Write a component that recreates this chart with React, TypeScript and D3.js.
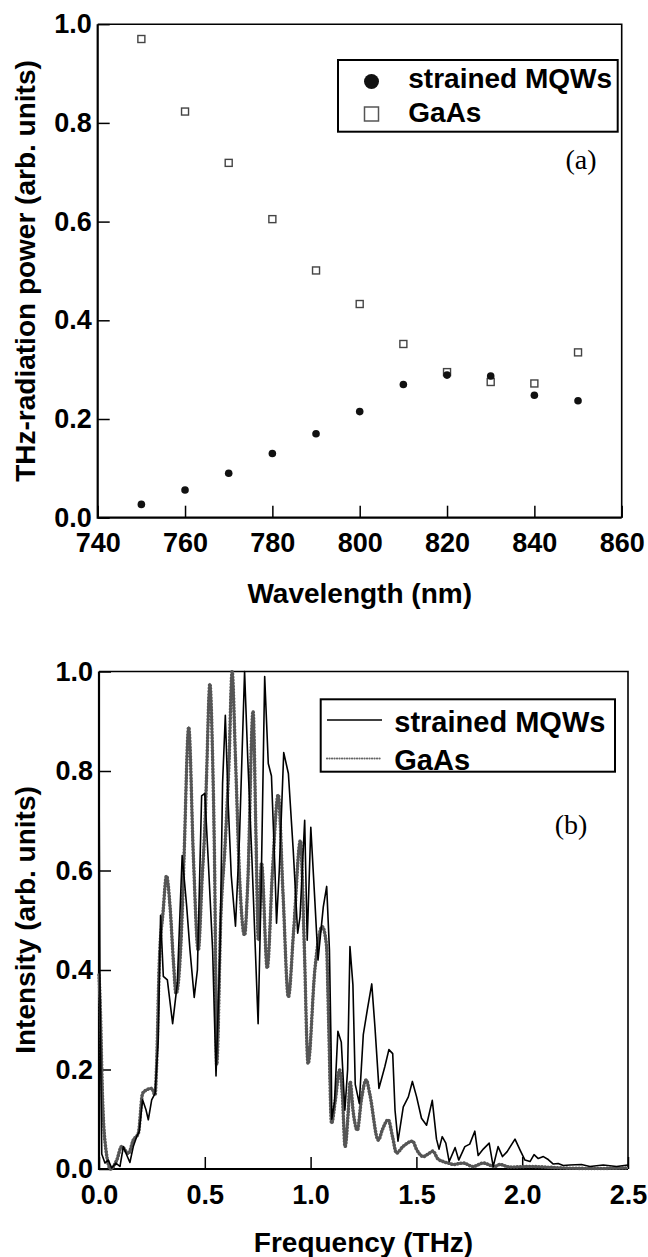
import React, { useEffect, useRef } from 'react';
import * as d3 from 'd3';

// panel (a): THz power vs excitation wavelength
const WAVELENGTHS = [750, 760, 770, 780, 790, 800, 810, 820, 830, 840, 850];
const MQW_POWER = [0.027, 0.056, 0.090, 0.130, 0.170, 0.215, 0.270, 0.289, 0.287, 0.248, 0.237];
const GAAS_POWER = [0.970, 0.823, 0.719, 0.605, 0.501, 0.433, 0.352, 0.295, 0.275, 0.272, 0.335];

// panel (b): spectra
const MQW_FREQ = [
  0.000, 0.005, 0.013, 0.028, 0.044, 0.060, 0.080, 0.099, 0.115, 0.134, 0.146, 0.162, 0.178, 0.190,
  0.206, 0.222, 0.233, 0.249, 0.265, 0.280, 0.291, 0.304, 0.323, 0.348, 0.370, 0.393, 0.414, 0.430,
  0.450, 0.465, 0.485, 0.500, 0.517, 0.537, 0.553, 0.572, 0.584, 0.597, 0.611, 0.625, 0.645, 0.664,
  0.688, 0.703, 0.723, 0.752, 0.766, 0.783, 0.800, 0.815, 0.831, 0.839, 0.852, 0.873, 0.895, 0.918,
  0.939, 0.950, 0.972, 0.984, 1.001, 1.020, 1.035, 1.060, 1.076, 1.089, 1.097, 1.100, 1.113, 1.129,
  1.145, 1.162, 1.175, 1.186, 1.200, 1.211, 1.221, 1.230, 1.249, 1.268, 1.289, 1.304, 1.323, 1.351,
  1.370, 1.388, 1.399, 1.413, 1.438, 1.462, 1.481, 1.501, 1.524, 1.548, 1.575, 1.595, 1.607, 1.622,
  1.639, 1.655, 1.683, 1.700, 1.729, 1.752, 1.776, 1.792, 1.816, 1.844, 1.863, 1.886, 1.907, 1.929,
  1.966, 1.990, 2.013, 2.037, 2.056, 2.076, 2.100, 2.123, 2.147, 2.170, 2.194, 2.225, 2.280, 2.320,
  2.383, 2.446, 2.500
];
const MQW_INTENSITY = [
  0.800, 0.340, 0.030, 0.012, 0.018, 0.002, 0.012, 0.005, 0.045, 0.025, 0.013, 0.045, 0.065, 0.075,
  0.139, 0.119, 0.099, 0.139, 0.152, 0.259, 0.510, 0.387, 0.380, 0.292, 0.373, 0.630, 0.530, 0.440,
  0.345, 0.400, 0.750, 0.755, 0.614, 0.440, 0.187, 0.440, 0.775, 0.912, 0.730, 0.590, 0.488, 0.667,
  1.000, 0.825, 0.620, 0.292, 0.557, 0.990, 0.815, 0.790, 0.608, 0.494, 0.600, 0.837, 0.795, 0.640,
  0.474, 0.507, 0.701, 0.460, 0.687, 0.540, 0.420, 0.527, 0.568, 0.440, 0.240, 0.100, 0.135, 0.277,
  0.255, 0.118, 0.200, 0.447, 0.370, 0.170, 0.150, 0.132, 0.270, 0.320, 0.372, 0.286, 0.162, 0.206,
  0.240, 0.232, 0.118, 0.056, 0.125, 0.145, 0.176, 0.145, 0.102, 0.088, 0.138, 0.060, 0.040, 0.065,
  0.052, 0.015, 0.043, 0.018, 0.045, 0.050, 0.076, 0.027, 0.040, 0.052, 0.005, 0.045, 0.025, 0.035,
  0.060, 0.038, 0.018, 0.015, 0.029, 0.021, 0.025, 0.019, 0.010, 0.011, 0.007, 0.008, 0.009, 0.005,
  0.008, 0.005, 0.008
];
const GAAS_FREQ = [
  0.000, 0.005, 0.017, 0.033, 0.055, 0.084, 0.107, 0.139, 0.162, 0.186, 0.206, 0.225, 0.249, 0.265,
  0.272, 0.285, 0.303, 0.319, 0.336, 0.352, 0.364, 0.390, 0.402, 0.424, 0.446, 0.469, 0.488, 0.501,
  0.508, 0.524, 0.537, 0.547, 0.556, 0.576, 0.596, 0.615, 0.629, 0.645, 0.664, 0.688, 0.703, 0.728,
  0.742, 0.753, 0.768, 0.795, 0.820, 0.847, 0.870, 0.895, 0.920, 0.952, 0.970, 0.988, 1.020, 1.055,
  1.075, 1.085, 1.099, 1.117, 1.137, 1.150, 1.163, 1.178, 1.187, 1.201, 1.221, 1.240, 1.263, 1.280,
  1.320, 1.340, 1.367, 1.387, 1.406, 1.436, 1.482, 1.500, 1.532, 1.555, 1.578, 1.600, 1.626, 1.658,
  1.674, 1.721, 1.768, 1.816, 1.870, 1.894, 1.940, 2.037, 2.194, 2.352, 2.493, 2.500
];
const GAAS_INTENSITY = [
  0.390, 0.340, 0.139, 0.038, 0.000, 0.018, 0.045, 0.031, 0.058, 0.072, 0.152, 0.159, 0.162, 0.149,
  0.206, 0.415, 0.518, 0.589, 0.526, 0.415, 0.353, 0.480, 0.628, 0.888, 0.628, 0.440, 0.589, 0.695,
  0.786, 0.975, 0.825, 0.589, 0.210, 0.510, 0.652, 0.825, 1.000, 0.825, 0.589, 0.470, 0.574, 0.920,
  0.667, 0.460, 0.615, 0.404, 0.600, 0.752, 0.550, 0.346, 0.480, 0.660, 0.450, 0.212, 0.400, 0.487,
  0.450, 0.300, 0.092, 0.139, 0.199, 0.150, 0.045, 0.116, 0.175, 0.116, 0.078, 0.140, 0.179, 0.150,
  0.058, 0.080, 0.099, 0.065, 0.032, 0.045, 0.056, 0.040, 0.025, 0.030, 0.036, 0.021, 0.015, 0.011,
  0.009, 0.012, 0.005, 0.012, 0.005, 0.009, 0.004, 0.005, 0.002, 0.001, 0.002, 0.002
];

const POWER_TICKS = [0, 0.2, 0.4, 0.6, 0.8, 1.0];
const WAVE_TICKS = [740, 760, 780, 800, 820, 840, 860];
const FREQ_TICKS = [0, 0.5, 1.0, 1.5, 2.0, 2.5];

const SANS = '"Liberation Sans", Arial, Helvetica, sans-serif';
const SERIF = '"Liberation Serif", "Times New Roman", serif';

const W = 648;
const H = 1257;

// draws frame, inward ticks and labels for one panel
function drawFrame(g, x, y, xTicks, yTicks, xFmt) {
  const [x0, x1] = x.range();
  const [y0, y1] = y.range();

  const yAxis = g.append('g')
    .attr('transform', `translate(${x0},0)`)
    .call(d3.axisLeft(y).tickValues(yTicks).tickSizeInner(-12).tickSizeOuter(0)
      .tickPadding(6).tickFormat(d3.format('.1f')));
  const xAxis = g.append('g')
    .attr('transform', `translate(0,${y0})`)
    .call(d3.axisBottom(x).tickValues(xTicks).tickSizeInner(-12).tickSizeOuter(0)
      .tickPadding(15.5).tickFormat(xFmt));

  [yAxis, xAxis].forEach(a => {
    a.select('.domain').remove();
    a.selectAll('line').attr('stroke', '#000').attr('stroke-width', 1.5);
    a.selectAll('text')
      .attr('fill', '#000')
      .style('font-family', SANS)
      .style('font-weight', 'bold')
      .style('font-size', '27px');
  });

  // right and top border
  g.append('path')
    .attr('d', `M${x0},${y1}H${x1}V${y0}`)
    .attr('fill', 'none').attr('stroke', '#000').attr('stroke-width', 1.6);
  // left and bottom axis
  g.append('path')
    .attr('d', `M${x0},${y1}V${y0}H${x1}`)
    .attr('fill', 'none').attr('stroke', '#000').attr('stroke-width', 2.2);
}

function axisTitle(g, text, x, y, rotate) {
  g.append('text')
    .attr('transform', `translate(${x},${y})${rotate ? ' rotate(-90)' : ''}`)
    .attr('text-anchor', 'middle')
    .style('font-family', SANS)
    .style('font-weight', 'bold')
    .style('font-size', '28px')
    .attr('fill', '#000')
    .text(text);
}

function legendText(g, text, x, y, size) {
  g.append('text')
    .attr('x', x).attr('y', y)
    .style('font-family', SANS)
    .style('font-weight', 'bold')
    .style('font-size', `${size}px`)
    .attr('fill', '#000')
    .text(text);
}

export default function App() {
  const ref = useRef(null);

  useEffect(() => {
    const svg = d3.select(ref.current);
    svg.selectAll('*').remove();

    // ---------- panel (a) ----------
    const ga = svg.append('g');
    const xa = d3.scaleLinear().domain([740, 860]).range([97.7, 621.7]);
    const ya = d3.scaleLinear().domain([0, 1]).range([517.7, 24.2]);

    drawFrame(ga, xa, ya, WAVE_TICKS, POWER_TICKS, d3.format('d'));

    const ptsA = WAVELENGTHS.map((w, i) => ({ w, mqw: MQW_POWER[i], gaas: GAAS_POWER[i] }));

    ga.selectAll('.gaas-pt')
      .data(ptsA)
      .enter().append('rect')
      .attr('class', 'gaas-pt')
      .attr('x', d => xa(d.w) - 3.5)
      .attr('y', d => ya(d.gaas) - 3.5)
      .attr('width', 7).attr('height', 7)
      .attr('fill', '#fff')
      .attr('stroke', '#444')
      .attr('stroke-width', 1.4);

    ga.selectAll('.mqw-pt')
      .data(ptsA)
      .enter().append('circle')
      .attr('class', 'mqw-pt')
      .attr('cx', d => xa(d.w))
      .attr('cy', d => ya(d.mqw))
      .attr('r', 3.8)
      .attr('fill', '#111');

    // legend (a)
    ga.append('rect')
      .attr('x', 338).attr('y', 60).attr('width', 279.7).attr('height', 71.7)
      .attr('fill', '#fff').attr('stroke', '#000').attr('stroke-width', 2);
    ga.append('circle').attr('cx', 371.5).attr('cy', 81.5).attr('r', 7.5).attr('fill', '#111');
    ga.append('rect')
      .attr('x', 364.5).attr('y', 107).attr('width', 14).attr('height', 14)
      .attr('fill', '#fff').attr('stroke', '#555').attr('stroke-width', 1.5);
    legendText(ga, 'strained MQWs', 408.3, 88.3, 28);
    legendText(ga, 'GaAs', 408.3, 121.7, 28);

    ga.append('text')
      .attr('x', 581).attr('y', 169)
      .attr('text-anchor', 'middle')
      .style('font-family', SERIF)
      .style('font-size', '28px')
      .attr('fill', '#000')
      .text('(a)');

    axisTitle(ga, 'Wavelength (nm)', 359.7, 603.3, false);
    axisTitle(ga, 'THz-radiation power (arb. units)', 35, 271, true);

    // ---------- panel (b) ----------
    const gb = svg.append('g');
    const xb = d3.scaleLinear().domain([0, 2.5]).range([99, 628]);
    const yb = d3.scaleLinear().domain([0, 1]).range([1169, 671.5]);

    drawFrame(gb, xb, yb, FREQ_TICKS, POWER_TICKS, d3.format('.1f'));

    const gaasData = GAAS_FREQ.map((f, i) => [f, GAAS_INTENSITY[i]]);
    const mqwData = MQW_FREQ.map((f, i) => [f, MQW_INTENSITY[i]]);

    const gaasLine = d3.line()
      .x(d => xb(d[0]))
      .y(d => yb(d[1]))
      .curve(d3.curveMonotoneX);
    const mqwLine = d3.line()
      .x(d => xb(d[0]))
      .y(d => yb(d[1]));

    // GaAs: chain of gray beads
    gb.append('path')
      .datum(gaasData)
      .attr('d', gaasLine)
      .attr('fill', 'none')
      .attr('stroke', '#7a7a7a')
      .attr('stroke-width', 2.2)
      .attr('stroke-linejoin', 'round');
    gb.append('path')
      .datum(gaasData)
      .attr('d', gaasLine)
      .attr('fill', 'none')
      .attr('stroke', '#555')
      .attr('stroke-width', 3.6)
      .attr('stroke-linecap', 'round')
      .attr('stroke-linejoin', 'round')
      .attr('stroke-dasharray', '0.1,3');

    gb.append('path')
      .datum(mqwData)
      .attr('d', mqwLine)
      .attr('fill', 'none')
      .attr('stroke', '#000')
      .attr('stroke-width', 1.6)
      .attr('stroke-linejoin', 'round');

    // legend (b)
    gb.append('rect')
      .attr('x', 320.7).attr('y', 699.3).attr('width', 294.3).attr('height', 72.4)
      .attr('fill', '#fff').attr('stroke', '#000').attr('stroke-width', 2);
    gb.append('line')
      .attr('x1', 327).attr('x2', 382).attr('y1', 720).attr('y2', 720)
      .attr('stroke', '#000').attr('stroke-width', 1.6);
    gb.append('line')
      .attr('x1', 327).attr('x2', 382).attr('y1', 758.5).attr('y2', 758.5)
      .attr('stroke', '#666').attr('stroke-width', 2.2)
      .attr('stroke-linecap', 'round')
      .attr('stroke-dasharray', '0.1,2.4');
    legendText(gb, 'strained MQWs', 394.3, 731.7, 29);
    legendText(gb, 'GaAs', 394.3, 769.5, 29);

    gb.append('text')
      .attr('x', 571).attr('y', 834)
      .attr('text-anchor', 'middle')
      .style('font-family', SERIF)
      .style('font-size', '28px')
      .attr('fill', '#000')
      .text('(b)');

    axisTitle(gb, 'Frequency (THz)', 363.5, 1252, false);
    axisTitle(gb, 'Intensity (arb. units)', 35, 920, true);
  }, []);

  return (
    <svg
      ref={ref}
      width={W}
      height={H}
      style={{ position: 'absolute', left: 0, top: 0, background: '#fff' }}
    />
  );
}
